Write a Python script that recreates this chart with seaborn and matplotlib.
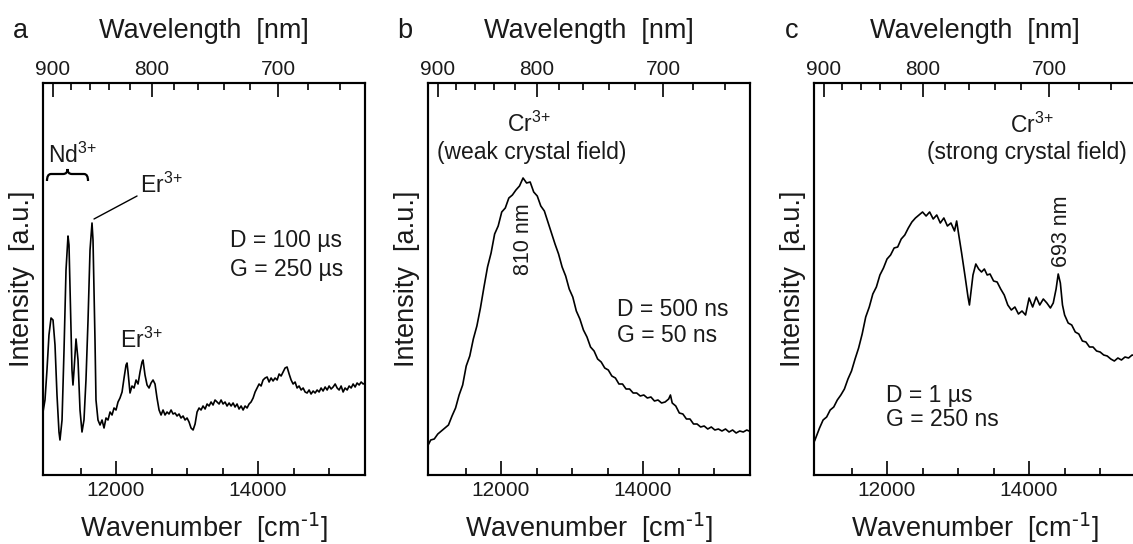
import matplotlib
matplotlib.use('Agg')
import matplotlib.pyplot as plt
from matplotlib.path import Path
from matplotlib.patches import PathPatch
import seaborn as sns

# panel a: Nd/Er spectrum, D = 100 us
wn_a = [10972, 11000, 11028, 11056, 11085, 11113, 11141, 11169, 11197, 11211,
        11240, 11268, 11296, 11324, 11338, 11366, 11380, 11394, 11409, 11437,
        11465, 11493, 11521, 11549, 11577, 11606, 11634, 11662, 11676, 11704,
        11718, 11746, 11775, 11803, 11831, 11859, 11887, 11916, 11944, 11972,
        12000, 12028, 12056, 12085, 12113, 12141, 12155, 12169, 12197, 12225,
        12254, 12282, 12310, 12338, 12366, 12380, 12408, 12437, 12465, 12493,
        12521, 12549, 12577, 12606, 12634, 12662, 12690, 12718, 12746, 12775,
        12803, 12831, 12859, 12887, 12915, 12944, 12972, 13000, 13028, 13056,
        13085, 13113, 13141, 13169, 13197, 13225, 13254, 13282, 13310, 13338,
        13366, 13394, 13423, 13451, 13479, 13507, 13535, 13563, 13592, 13620,
        13648, 13676, 13704, 13732, 13761, 13789, 13817, 13845, 13873, 13901,
        13930, 13958, 13986, 14014, 14042, 14070, 14099, 14127, 14155, 14183,
        14211, 14239, 14268, 14296, 14324, 14352, 14380, 14408, 14437, 14465,
        14493, 14521, 14549, 14577, 14606, 14634, 14662, 14690, 14718, 14746,
        14775, 14803, 14831, 14859, 14887, 14915, 14944, 14972, 15000, 15028,
        15056, 15085, 15113, 15141, 15169, 15197, 15225, 15254, 15282, 15310,
        15338, 15366, 15394, 15423, 15451, 15479, 15507]
int_a = [63, 75, 105, 140, 157, 155, 130, 80, 43, 35,
         55, 125, 205, 239, 230, 145, 105, 90, 105, 136,
         115, 65, 43, 55, 95, 155, 225, 252, 235, 135,
         75, 55, 50, 55, 47, 57, 55, 63, 60, 67,
         65, 73, 77, 83, 97, 110, 112, 103, 82, 89,
         87, 95, 91, 103, 113, 115, 100, 90, 87, 92,
         95, 91, 77, 65, 60, 65, 60, 63, 61, 65,
         61, 62, 59, 61, 57, 59, 55, 57, 53, 47,
         45, 51, 63, 67, 65, 69, 66, 71, 69, 73,
         70, 75, 73, 71, 75, 71, 73, 69, 72, 69,
         72, 68, 71, 66, 69, 65, 69, 67, 71, 73,
         77, 83, 87, 91, 89, 95, 97, 98, 93, 97,
         94, 97, 95, 101, 99, 103, 107, 108, 101, 95,
         91, 93, 87, 89, 85, 87, 83, 82, 85, 81,
         84, 82, 85, 83, 87, 84, 88, 85, 89, 86,
         88, 91, 87, 85, 89, 83, 87, 85, 89, 87,
         91, 88, 92, 90, 93, 91, 92]

# panel b: Cr3+ weak crystal field, D = 500 ns
wn_b = [10960, 11010, 11060, 11110, 11160, 11210, 11260, 11310, 11360, 11410,
        11460, 11510, 11560, 11610, 11660, 11710, 11760, 11810, 11860, 11910,
        11960, 12010, 12060, 12110, 12160, 12210, 12260, 12310, 12360, 12410,
        12460, 12510, 12560, 12610, 12660, 12710, 12760, 12810, 12860, 12910,
        12960, 13010, 13060, 13110, 13160, 13210, 13260, 13310, 13360, 13410,
        13460, 13510, 13560, 13610, 13660, 13710, 13760, 13810, 13860, 13910,
        13960, 14010, 14060, 14110, 14160, 14210, 14260, 14310, 14360, 14385,
        14410, 14460, 14510, 14560, 14610, 14660, 14710, 14760, 14810, 14860,
        14910, 14960, 15010, 15060, 15110, 15160, 15210, 15260, 15310, 15360,
        15410, 15460, 15490]
int_b = [28, 35, 36, 41, 44, 47, 50, 59, 67, 80,
         90, 109, 119, 136, 149, 167, 188, 208, 222, 241,
         249, 263, 267, 277, 280, 285, 289, 297, 292, 293,
         283, 279, 269, 264, 253, 242, 231, 221, 208, 199,
         186, 178, 164, 156, 145, 138, 128, 124, 116, 113,
         107, 105, 99, 97, 91, 91, 86, 86, 82, 82,
         79, 80, 77, 78, 74, 75, 72, 73, 76, 80,
         72, 69, 62, 61, 56, 56, 51, 51, 48, 49,
         46, 48, 45, 46, 44, 46, 43, 45, 42, 44,
         43, 45, 44]

# panel c: Cr3+ strong crystal field, D = 1 us
wn_c = [10980, 11050, 11100, 11150, 11200, 11250, 11300, 11350, 11400, 11450,
        11500, 11550, 11600, 11650, 11700, 11750, 11800, 11850, 11900, 11950,
        12000, 12050, 12100, 12150, 12200, 12250, 12300, 12350, 12400, 12450,
        12500, 12550, 12600, 12650, 12700, 12750, 12800, 12850, 12900, 12950,
        12980, 13010, 13050, 13100, 13140, 13160, 13180, 13210, 13250, 13290,
        13330, 13370, 13410, 13450, 13500, 13550, 13600, 13650, 13700, 13750,
        13800, 13850, 13900, 13950, 14000, 14050, 14100, 14150, 14200, 14250,
        14300, 14340, 14380, 14410, 14440, 14470, 14500, 14550, 14600, 14650,
        14700, 14750, 14800, 14850, 14900, 14950, 15000, 15050, 15100, 15150,
        15200, 15250, 15300, 15350, 15400, 15450, 15500]
int_c = [34, 47, 55, 58, 65, 68, 75, 80, 86, 96,
         104, 116, 127, 141, 158, 168, 181, 188, 200, 207,
         216, 220, 227, 228, 236, 240, 247, 253, 257, 260,
         263, 259, 263, 256, 260, 252, 257, 249, 252, 244,
         254, 240, 222, 198, 178, 170, 182, 200, 211, 206,
         203, 206, 200, 201, 194, 193, 186, 180, 170, 165,
         168, 161, 164, 160, 177, 168, 178, 170, 176, 172,
         167, 172, 186, 201, 192, 170, 160, 152, 150, 143,
         141, 134, 133, 128, 128, 124, 123, 120, 119, 116,
         114, 117, 115, 118, 117, 120, 119]

wl_major = [900, 800, 700]
wl_minor = [880, 860, 840, 820, 780, 760, 740, 720, 680, 660]
wn_major = [12000, 14000]
wn_minor = [11500, 12500, 13000, 13500, 14500, 15000]

sns.set_theme(style='ticks')
plt.rcParams['font.family'] = ['Liberation Sans', 'DejaVu Sans']
plt.rcParams['mathtext.default'] = 'regular'
plt.rcParams['text.color'] = '#1a1a1a'

fig = plt.figure(figsize=(11.33, 5.44), dpi=100)
lefts = [0.03795, 0.37776, 0.71845]
axes = [fig.add_axes([l, 0.12684, 0.2842, 0.72059]) for l in lefts]
panels = [(wn_a, int_a, 'a'), (wn_b, int_b, 'b'), (wn_c, int_c, 'c')]
lab_fs = 19.5

for ax, (wn, inten, letter) in zip(axes, panels):
    sns.lineplot(x=wn, y=inten, ax=ax, color='black', linewidth=1.2, estimator=None)
    ax.set_xlim(10972, 15505)
    ax.set_ylim(0, 392)
    ax.set_yticks([])
    ax.set_ylabel('')
    ax.set_xticks(wn_major)
    ax.set_xticklabels([str(v) for v in wn_major])
    ax.set_xticks(wn_minor, minor=True)
    ax.tick_params(axis='x', which='major', direction='in', length=10, width=1.2,
                   labelsize=15, pad=4.5, colors='black', labelcolor='#1a1a1a')
    ax.tick_params(axis='x', which='minor', direction='in', length=5, width=1.2, colors='black')
    for s in ax.spines.values():
        s.set_linewidth(1.5)
        s.set_color('black')

    top = ax.twiny()
    top.set_xlim(ax.get_xlim())
    top.set_xticks([1e7 / w for w in wl_major])
    top.set_xticklabels([str(w) for w in wl_major])
    top.set_xticks([1e7 / w for w in wl_minor], minor=True)
    top.tick_params(axis='x', which='major', direction='in', length=10, width=1.2,
                    labelsize=15, pad=3, colors='black', labelcolor='#1a1a1a')
    top.tick_params(axis='x', which='minor', direction='in', length=5, width=1.2, colors='black')
    for s in top.spines.values():
        s.set_linewidth(1.5)
        s.set_color('black')

    ax.text(0.5, 1.115, 'Wavelength  [nm]', transform=ax.transAxes, ha='center',
            va='baseline', fontsize=lab_fs)
    ax.text(0.5, -0.158, r'Wavenumber  [cm$^{\text{-1}}$]', transform=ax.transAxes, ha='center',
            va='baseline', fontsize=lab_fs)
    ax.text(-0.066, 0.5, 'Intensity  [a.u.]', transform=ax.transAxes, ha='center',
            va='center', rotation=90, fontsize=lab_fs)
    ax.text(-0.071, 1.115, letter, transform=ax.transAxes, ha='center',
            va='baseline', fontsize=lab_fs)

ax_a, ax_b, ax_c = axes
fs = 16.5
ion = '$^{3{+}}$'

# panel a annotations
ax_a.text(11042, 312, 'Nd' + ion, ha='left', va='baseline', fontsize=fs)
brace = Path([(11028, 294), (11028, 301), (11085, 301), (11254, 301), (11317, 301), (11317, 306),
              (11317, 301), (11380, 301), (11549, 301), (11606, 301), (11606, 294)],
             [Path.MOVETO, Path.CURVE3, Path.CURVE3, Path.LINETO, Path.CURVE3, Path.CURVE3,
              Path.CURVE3, Path.CURVE3, Path.LINETO, Path.CURVE3, Path.CURVE3])
ax_a.add_patch(PathPatch(brace, facecolor='none', edgecolor='black', linewidth=1.6))
ax_a.text(12338, 282, 'Er' + ion, ha='left', va='baseline', fontsize=fs)
ax_a.annotate('', xy=(11690, 256), xytext=(12296, 279),
              arrowprops=dict(arrowstyle='-', color='black', lw=1.0, shrinkA=0, shrinkB=0))
ax_a.text(13606, 228, 'D = 100 µs', ha='left', va='baseline', fontsize=fs)
ax_a.text(13606, 199, 'G = 250 µs', ha='left', va='baseline', fontsize=fs)
ax_a.text(12057, 127, 'Er' + ion, ha='left', va='baseline', fontsize=fs)

# panel b annotations
ax_b.text(12085, 343, 'Cr' + ion, ha='left', va='baseline', fontsize=fs)
ax_b.text(11100, 316, '(weak crystal field)', ha='left', va='baseline', fontsize=fs)
ax_b.text(12321, 236, '810 nm', ha='center', va='center', rotation=90, fontsize=15.5)
ax_b.text(13633, 159, 'D = 500 ns', ha='left', va='baseline', fontsize=fs)
ax_b.text(13633, 133, 'G = 50 ns', ha='left', va='baseline', fontsize=fs)

# panel c annotations
ax_c.text(13729, 342, 'Cr' + ion, ha='left', va='baseline', fontsize=fs)
ax_c.text(15370, 316, '(strong crystal field)', ha='right', va='baseline', fontsize=fs)
ax_c.text(14453, 244, '693 nm', ha='center', va='center', rotation=90, fontsize=15.5)
ax_c.text(11991, 73, 'D = 1 µs', ha='left', va='baseline', fontsize=fs)
ax_c.text(11991, 49, 'G = 250 ns', ha='left', va='baseline', fontsize=fs)

fig.savefig('out.png', dpi=100)
plt.close(fig)
